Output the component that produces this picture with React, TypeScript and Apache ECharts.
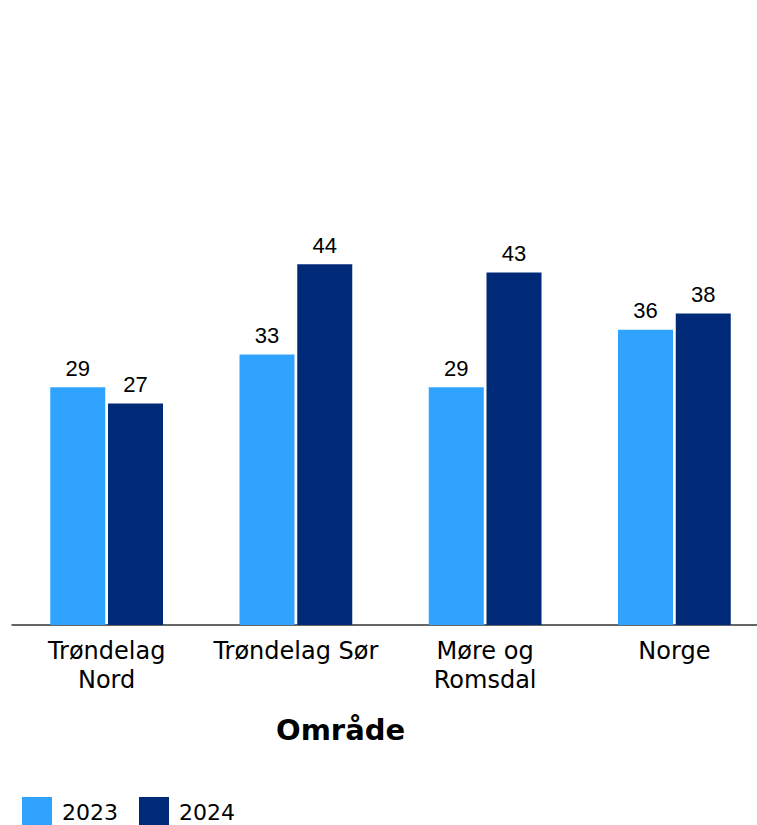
import React, { useEffect, useRef } from "react";
import * as echarts from "echarts";

const categories = ["Trøndelag\nNord", "Trøndelag Sør", "Møre og\nRomsdal", "Norge"];
const values2023 = [29, 33, 29, 36];
const values2024 = [27, 44, 43, 38];
const seriesNames = ["2023", "2024"];
const axisTitle = "Område";

export default function App() {
  const ref = useRef<HTMLDivElement>(null);
  useEffect(() => {
    if (!ref.current) return;
    const chart = echarts.init(ref.current, null, { renderer: "svg" });
    const font = "'DejaVu Sans', sans-serif";
    const label = {
      show: true,
      position: "top",
      distance: 8,
      color: "#000",
      fontSize: 22,
      fontFamily: "'Liberation Sans', Arial, sans-serif",
    };
    chart.setOption({
      animation: false,
      grid: { left: 12, right: 0, top: 133, bottom: 200, containLabel: false },
      legend: {
        left: 22,
        top: 797,
        padding: 0,
        itemWidth: 30,
        itemHeight: 30,
        itemGap: 21,
        icon: "rect",
        textStyle: { fontSize: 22, color: "#000", fontFamily: font, padding: [0, 0, 0, 5] },
        data: seriesNames,
      },
      graphic: [
        {
          type: "text",
          x: 276,
          y: 730,
          style: {
            text: axisTitle,
            fill: "#000",
            font: `bold 29px ${font}`,
            verticalAlign: "middle",
          },
        },
      ],
      xAxis: {
        type: "category",
        data: categories,
        axisLine: { lineStyle: { color: "#333", width: 1.5 } },
        axisTick: { show: false },
        axisLabel: {
          color: "#000",
          fontSize: 24,
          fontFamily: font,
          lineHeight: 29,
          margin: 11,
          interval: 0,
          hideOverlap: false,
        },
      },
      yAxis: { type: "value", min: 0, max: 60, show: false, splitLine: { show: false } },
      series: [
        {
          name: seriesNames[0],
          type: "bar",
          data: values2023,
          barWidth: 55,
          barGap: "5%",
          itemStyle: { color: "#30a3ff" },
          label,
        },
        {
          name: seriesNames[1],
          type: "bar",
          data: values2024,
          barWidth: 55,
          itemStyle: { color: "#002a78" },
          label,
        },
      ],
    });
    return () => chart.dispose();
  }, []);
  return (
    <div style={{ width: 757, height: 825, position: "absolute", left: 0, top: 0, overflow: "hidden" }}>
      <div ref={ref} style={{ width: 769, height: 825, position: "absolute", left: 0, top: 0 }} />
    </div>
  );
}
